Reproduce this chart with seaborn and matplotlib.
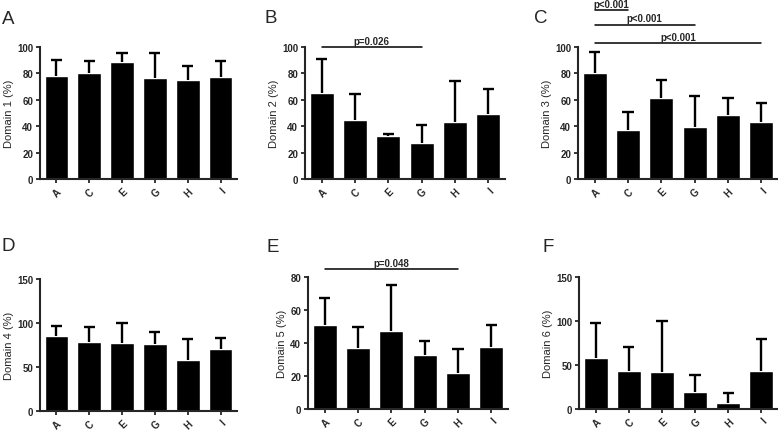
import pandas as pd
import matplotlib.pyplot as plt
import seaborn as sns

groups = ['A', 'C', 'E', 'G', 'H', 'I']

# mean and upper end of the error bar for each domain
d1_mean = [78, 80.5, 88.5, 76.5, 75, 77]
d1_top = [90.5, 89.5, 95.7, 95.7, 85.8, 89]
d2_mean = [65.5, 45, 32.5, 27, 43, 49.5]
d2_top = [91, 64.5, 34, 41, 74, 68]
d3_mean = [80.5, 37, 61, 39, 48.5, 43.5]
d3_top = [96, 50.5, 75, 63, 61, 57.5]
d4_mean = [85, 79, 77.5, 76, 58.5, 70]
d4_top = [97, 95.5, 100.5, 90, 81.5, 83]
d5_mean = [51, 37, 47, 33, 21.7, 37.7]
d5_top = [67, 49.5, 75, 41.5, 36.5, 51]
d6_mean = [58, 43, 41.5, 19.5, 7, 43.5]
d6_top = [97.5, 70.5, 99.5, 38.5, 18.5, 80]

panels = [
    ('A', 'Domain 1 (%)', d1_mean, d1_top, 100, 20),
    ('B', 'Domain 2 (%)', d2_mean, d2_top, 100, 20),
    ('C', 'Domain 3 (%)', d3_mean, d3_top, 100, 20),
    ('D', 'Domain 4 (%)', d4_mean, d4_top, 150, 50),
    ('E', 'Domain 5 (%)', d5_mean, d5_top, 80, 20),
    ('F', 'Domain 6 (%)', d6_mean, d6_top, 150, 50),
]

# significance brackets: panel -> (from, to, y value, label)
brackets = {
    'B': [('A', 'G', 100, 'p=0.026')],
    'C': [('A', 'C', 128, 'p<0.001'), ('A', 'G', 117, 'p<0.001'), ('A', 'I', 103, 'p<0.001')],
    'E': [('A', 'H', 85, 'p=0.048')],
}

# axes rectangles in figure fraction
rects = {
    'A': [0.0514, 0.5824, 0.2532, 0.3063],
    'B': [0.3920, 0.5824, 0.2570, 0.3063],
    'C': [0.7430, 0.5824, 0.2570, 0.3063],
    'D': [0.0514, 0.0440, 0.2532, 0.3063],
    'E': [0.3960, 0.0487, 0.2570, 0.3063],
    'F': [0.7442, 0.0487, 0.2558, 0.3063],
}
letter_pos = {
    'A': (0.002, 0.955), 'B': (0.340, 0.958), 'C': (0.687, 0.958),
    'D': (0.002, 0.427), 'E': (0.343, 0.425), 'F': (0.697, 0.425),
}

sns.set_style('ticks')
plt.rcParams['font.family'] = ['Liberation Sans', 'DejaVu Sans']

fig = plt.figure(figsize=(7.78, 4.31), dpi=100)

for letter, ylabel, means, tops, ymax, step in panels:
    ax = fig.add_axes(rects[letter])
    df = pd.DataFrame({'group': groups, 'value': means})
    sns.barplot(data=df, x='group', y='value', color='black', width=0.72,
                errorbar=None, ax=ax, saturation=1)
    # upper-only error bars with a cap
    xs = range(len(groups))
    ax.vlines(xs, means, tops, color='black', lw=1.7)
    ax.hlines(tops, [x - 0.17 for x in xs], [x + 0.17 for x in xs], color='black', lw=1.7)
    ax.set_xlim(-0.5, 5.5)
    ax.set_ylim(0, ymax)
    ax.set_yticks(range(0, ymax + 1, step))
    ax.set_xlabel('')
    ax.set_ylabel(ylabel, fontsize=8, labelpad=2)
    ax.tick_params(axis='both', labelsize=7, width=1.3, length=3, pad=2)
    for lab in ax.get_xticklabels() + ax.get_yticklabels():
        lab.set_fontweight('bold')
    plt.setp(ax.get_xticklabels(), rotation=45, ha='right', rotation_mode='anchor')
    sns.despine(ax=ax)
    for side in ['left', 'bottom']:
        ax.spines[side].set_linewidth(1.5)
    for a, b, yv, txt in brackets.get(letter, []):
        i, j = groups.index(a), groups.index(b)
        ax.plot([i, j], [yv, yv], color='black', lw=1.1, clip_on=False)
        ax.text((i + j) / 2, yv + 0.9 * ymax / 100, txt, ha='center', va='bottom',
                fontsize=7, fontweight='bold')
    fig.text(*letter_pos[letter], letter, fontsize=13.5, va='center', ha='left')

fig.savefig('out.png', dpi=100)
plt.close(fig)
